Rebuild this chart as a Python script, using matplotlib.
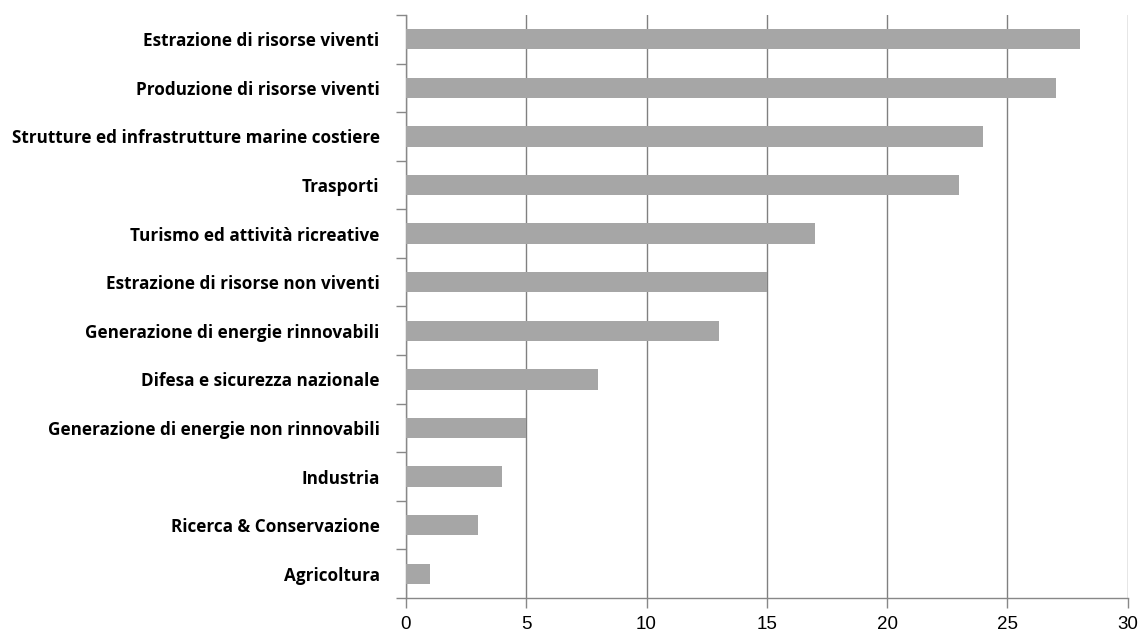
import numpy as np
import matplotlib
matplotlib.use('Agg')
import matplotlib.pyplot as plt

CATEGORIES = [
    "Estrazione di risorse viventi",
    "Produzione di risorse viventi",
    "Strutture ed infrastrutture marine costiere",
    "Trasporti",
    "Turismo ed attività ricreative",
    "Estrazione di risorse non viventi",
    "Generazione di energie rinnovabili",
    "Difesa e sicurezza nazionale",
    "Generazione di energie non rinnovabili",
    "Industria",
    "Ricerca & Conservazione",
    "Agricoltura",
]
VALUES = [28, 27, 24, 23, 17, 15, 13, 8, 5, 4, 3, 1]
X_TICKS = [0, 5, 10, 15, 20, 25, 30]

fig = plt.figure(figsize=(11.42, 6.33), dpi=100)
ax = fig.add_axes([0.3555, 0.0553, 0.632, 0.921])

y = np.arange(len(CATEGORIES))
ax.barh(y, VALUES, height=0.42, color='#a6a6a6', zorder=3)
ax.set_ylim(len(CATEGORIES) - 0.5, -0.5)
ax.set_xlim(0, 30)

ax.set_xticks(X_TICKS)
ax.set_xticklabels([str(t) for t in X_TICKS], fontsize=13.5,
                   family='Liberation Sans')
ax.set_yticks(y)
ax.set_yticklabels(CATEGORIES, fontsize=12.3, fontweight='bold',
                   family='Open Sans')
ax.set_yticks(np.arange(len(CATEGORIES) + 1) - 0.5, minor=True)

ax.tick_params(axis='y', which='major', length=0, pad=19)
ax.tick_params(axis='y', which='minor', length=7, color='#888888', width=1)
ax.tick_params(axis='x', length=7, color='#888888', width=1, pad=6)

ax.grid(axis='x', color='#808080', linewidth=1, zorder=0)
for side in ['top', 'right']:
    ax.spines[side].set_visible(False)
for side in ['left', 'bottom']:
    ax.spines[side].set_color('#888888')
    ax.spines[side].set_linewidth(1)

fig.savefig('out.png', dpi=100)
